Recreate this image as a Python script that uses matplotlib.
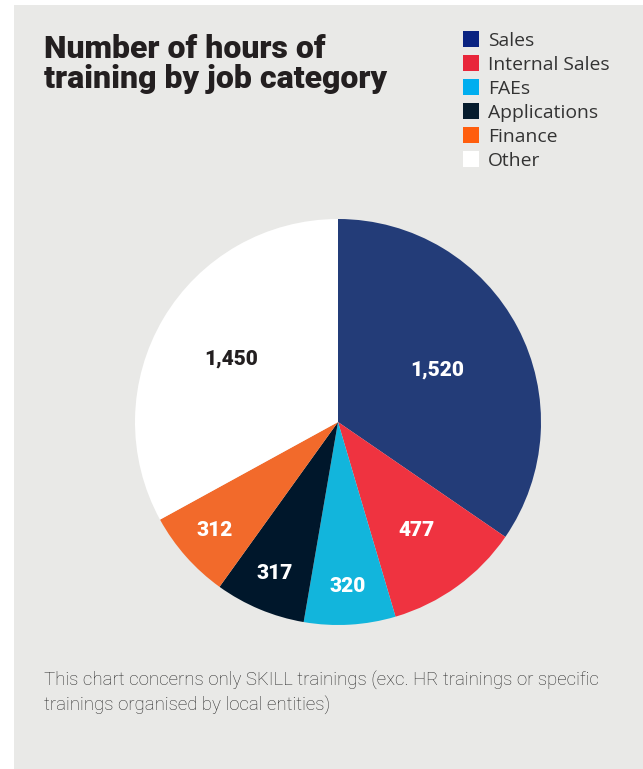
import matplotlib
matplotlib.use("Agg")
import matplotlib.pyplot as plt
from matplotlib.patches import Rectangle
import numpy as np

categories = ["Sales", "Internal Sales", "FAEs", "Applications", "Finance", "Other"]
hours = [1520, 477, 320, 317, 312, 1450]
value_labels = ["1,520", "477", "320", "317", "312", "1,450"]

wedge_colors = ["#233c78", "#ef3340", "#12b5dc", "#00172b", "#f26a2b", "#ffffff"]
legend_colors = ["#0a2381", "#e8263a", "#00aeef", "#061c2d", "#ff5e0e", "#ffffff"]
label_colors = ["white", "white", "white", "white", "white", "#231f20"]
label_radius = [0.55, 0.66, 0.81, 0.81, 0.81, 0.61]

title = "Number of hours of\ntraining by job category"
note = ("This chart concerns only SKILL trainings (exc. HR trainings or specific\n"
        "trainings organised by local entities)")

W, H = 643, 769
fig = plt.figure(figsize=(W / 100, H / 100), dpi=100)
fig.patch.set_facecolor("white")

# grey panel behind everything
bg = fig.add_axes([14 / W, 0, 1 - 14 / W, 1 - 5 / H], zorder=-10)
bg.set_facecolor("#e9e9e7")
bg.set_xticks([])
bg.set_yticks([])
for s in bg.spines.values():
    s.set_visible(False)

# pie
cx, cy, r = 338, 422, 203
ax = fig.add_axes([(cx - r) / W, (H - cy - r) / H, 2 * r / W, 2 * r / H], zorder=1)
wedges, _ = ax.pie(hours, colors=wedge_colors, startangle=90, counterclock=False,
                   radius=1.0, wedgeprops=dict(linewidth=0))
ax.set_xlim(-1, 1)
ax.set_ylim(-1, 1)
ax.set_aspect("equal")
ax.axis("off")

for w, lab, col, rr in zip(wedges, value_labels, label_colors, label_radius):
    mid = np.deg2rad((w.theta1 + w.theta2) / 2)
    ax.text(rr * np.cos(mid), rr * np.sin(mid), lab, ha="center", va="center",
            fontsize=15, fontweight="black", color=col, family="Roboto")

# title
fig.text(44 / W, 1 - 34 / H, title, ha="left", va="top", fontsize=23,
         fontweight="black", color="#231f20", family="Roboto", linespacing=0.98)

# legend
for i, (name, col) in enumerate(zip(categories, legend_colors)):
    yc = 39 + 24 * i
    fig.patches.append(Rectangle((463 / W, 1 - (yc + 8) / H), 16 / W, 16 / H,
                                 transform=fig.transFigure, facecolor=col,
                                 edgecolor="none", zorder=5))
    fig.text(488 / W, 1 - yc / H, name, ha="left", va="center_baseline",
             fontsize=13.9, color="#333333", family="Open Sans")

# footnote
fig.text(44 / W, 1 - 671 / H, note, ha="left", va="top", fontsize=13.45,
         color="#2a2a2a", family="Roboto", fontweight="light", linespacing=1.38)

fig.savefig("out.png", dpi=100)
